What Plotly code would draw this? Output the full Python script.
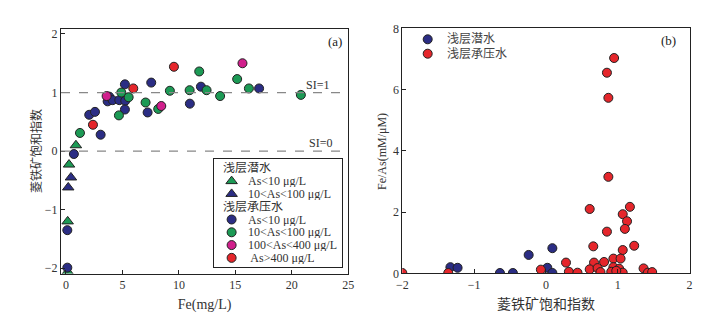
import plotly.graph_objects as go

# ---- panel (a): Fe vs siderite saturation index ----
# 浅层潜水 (triangles)
tri_green_fe = [0.88, 0.27, 0.15, 0.15]
tri_green_si = [0.10, -0.23, -1.20, -2.06]
tri_blue_fe = [0.44, 0.20]
tri_blue_si = [-0.45, -0.62]

# 浅层承压水 (circles)
blue_fe = [0.70, 2.06, 2.57, 3.07, 3.83, 3.69, 4.13, 5.22, 4.72, 5.25, 5.22,
           7.55, 7.23, 10.97, 11.95, 17.1, 0.12, 0.12]
blue_si = [-0.05, 0.62, 0.67, 0.28, 0.93, 0.85, 0.87, 1.14, 0.87, 0.86, 0.71,
           1.17, 0.66, 0.81, 1.10, 1.07, -1.35, -1.99]
green_fe = [1.24, 4.90, 5.55, 4.69, 7.05, 8.17, 9.20, 10.95, 11.8, 12.45,
            13.65, 15.16, 16.2, 20.8]
green_si = [0.31, 1.00, 0.92, 0.61, 0.83, 0.72, 1.03, 1.04, 1.36, 1.04,
            0.94, 1.23, 1.07, 0.96]
mag_fe = [3.60, 8.44, 15.63]
mag_si = [0.94, 0.77, 1.50]
red_fe = [2.39, 5.96, 9.56]
red_si = [0.45, 1.07, 1.44]

# ---- panel (b): SI vs Fe/As ----
b_blue_si = [-1.33, -1.23, -0.24, 0.09, 0.02, -0.64, -0.46, 0.09]
b_blue_ratio = [0.20, 0.18, 0.60, 0.82, 0.18, 0.01, 0.01, 0.01]
b_red_si = [0.95, 0.85, 0.87, 0.87, 0.61, 1.17, 1.07, 1.13, 1.10, 0.85, 1.23,
            0.66, 1.07, 0.94, 1.04, 0.28, 0.67, 0.81, 0.61, 0.72, 0.94, 1.02,
            1.36, 0.32, 0.44, -0.07, 0.76, 0.91, 1.07, 1.42, 1.48, -2.0, -1.36, 0.98]
b_red_ratio = [7.03, 6.55, 5.73, 3.15, 2.10, 2.17, 1.93, 1.70, 1.45, 1.36, 0.90,
               0.88, 0.76, 0.48, 0.48, 0.35, 0.35, 0.37, 0.13, 0.17, 0.20, 0.15,
               0.16, 0.05, 0.02, 0.12, 0.04, 0.05, 0.02, 0.02, 0.04, 0.01, 0.01, 0.08]

# legend contents
legend_a_labels = ["浅层潜水", "As<10 μg/L", "10<As<100 μg/L", "浅层承压水",
                   "As<10 μg/L", "10<As<100 μg/L", "100<As<400 μg/L", " As>400 μg/L"]
legend_b_labels = ["浅层潜水", "浅层承压水"]

BLUE = "#2b2d84"
GREEN = "#1c9a55"
MAGENTA = "#d11f8c"
RED = "#e5262b"
SERIF = "Liberation Serif, Noto Sans CJK SC"
TXT = "#333333"

legend_a_colors = [None, GREEN, BLUE, None, BLUE, GREEN, MAGENTA, RED]
legend_a_symbols = [None, "triangle-up", "triangle-up", None,
                    "circle", "circle", "circle", "circle"]

# page body has an 8px margin, so the figure is drawn 8px in from the corner
W, H = 707, 305


def px(x):  # screen px -> paper x
    return (x - 8) / W


def py(y):  # screen px -> paper y
    return 1 - (y - 8) / H


fig = go.Figure()


def mk(color, symbol="circle", size=9):
    return dict(color=color, symbol=symbol, size=size,
                line=dict(color="#222222", width=1))


def pts(x, y, color, symbol="circle", size=9, xa="x", ya="y"):
    fig.add_trace(go.Scatter(x=x, y=y, mode="markers", marker=mk(color, symbol, size),
                             showlegend=False, xaxis=xa, yaxis=ya, hoverinfo="x+y"))


pts(tri_green_fe, tri_green_si, GREEN, "triangle-up", 10)
pts(tri_blue_fe, tri_blue_si, BLUE, "triangle-up", 10)
pts(blue_fe, blue_si, BLUE)
pts(green_fe, green_si, GREEN)
pts(mag_fe, mag_si, MAGENTA)
pts(red_fe, red_si, RED)

pts(b_blue_si, b_blue_ratio, BLUE, xa="x2", ya="y2")
pts(b_red_si, b_red_ratio, RED, xa="x2", ya="y2")

annotations = []

# legend (a): keys drawn on an overlay axis measured in rows
for i, (lab, col, sym) in enumerate(zip(legend_a_labels, legend_a_colors, legend_a_symbols)):
    if col is None:
        annotations.append(dict(text=lab, xref="x3", yref="y3", x=0.057, y=i, height=12,
                                xanchor="left", yanchor="middle", showarrow=False,
                                font=dict(family=SERIF, size=12, color=TXT)))
    else:
        fig.add_trace(go.Scatter(x=[0.14], y=[i], mode="markers",
                                 marker=mk(col, sym, 9 if sym == "circle" else 10),
                                 showlegend=False, xaxis="x3", yaxis="y3", hoverinfo="skip"))
        annotations.append(dict(text=lab, xref="x3", yref="y3", x=0.25, y=i, height=12,
                                xanchor="left", yanchor="middle", showarrow=False,
                                font=dict(family=SERIF, size=12, color=TXT)))

# legend (b)
for i, (lab, col) in enumerate(zip(legend_b_labels, [BLUE, RED])):
    fig.add_trace(go.Scatter(x=[0.077], y=[i], mode="markers", marker=mk(col),
                             showlegend=False, xaxis="x4", yaxis="y4", hoverinfo="skip"))
    annotations.append(dict(text=lab, xref="x4", yref="y4", x=0.25, y=i,
                            xanchor="left", yanchor="middle", showarrow=False,
                            font=dict(family=SERIF, size=12, color="#444444")))

annotations += [
    dict(text="SI=1", xref="x", yref="y", x=22.3, y=1.0, showarrow=False,
         xanchor="center", yanchor="bottom", yshift=-1,
         font=dict(family=SERIF, size=12, color=TXT)),
    dict(text="SI=0", xref="x", yref="y", x=22.5, y=0.0, showarrow=False,
         xanchor="center", yanchor="bottom", yshift=-1,
         font=dict(family=SERIF, size=12, color=TXT)),
    dict(text="(a)", xref="paper", yref="paper", x=px(335), y=py(42), showarrow=False,
         xanchor="center", yanchor="middle",
         font=dict(family=SERIF, size=13, color="#222222")),
    dict(text="(b)", xref="paper", yref="paper", x=px(668), y=py(41), showarrow=False,
         xanchor="center", yanchor="middle",
         font=dict(family=SERIF, size=13, color="#222222")),
    # y-axis titles
    dict(text="菱铁矿饱和指数", xref="paper", yref="paper", x=px(37), y=py(151),
         xanchor="center", yanchor="middle", textangle=-90, showarrow=False,
         font=dict(family=SERIF, size=12, color=TXT)),
    dict(text="Fe/As(mM/μM)", xref="paper", yref="paper", x=px(382), y=py(151),
         xanchor="center", yanchor="middle", textangle=-90, showarrow=False,
         font=dict(family=SERIF, size=12, color=TXT)),
]

axis_common = dict(showline=True, mirror=True, linecolor="#222222", linewidth=1,
                   ticks="inside", ticklen=4, tickcolor="#222222",
                   showgrid=False, zeroline=False, automargin=False,
                   tickfont=dict(family=SERIF, size=12, color=TXT))
hidden = dict(showgrid=False, zeroline=False, showticklabels=False, ticks="",
              fixedrange=True, automargin=False)

fig.update_layout(
    width=W, height=H,
    margin=dict(l=0, r=0, t=0, b=0),
    paper_bgcolor="white", plot_bgcolor="white",
    font=dict(family=SERIF, size=12, color=TXT),
    showlegend=False,
    xaxis=dict(domain=[px(61), px(348.3)], range=[-0.44, 25.0], tickvals=[0, 5, 10, 15, 20, 25],
               title=dict(text="Fe(mg/L)", standoff=8), anchor="y", **axis_common),
    yaxis=dict(domain=[py(273.5), py(29)], range=[-2.09, 2.085], tickvals=[-2, -1, 0, 1, 2],
               anchor="x", **axis_common),
    xaxis2=dict(domain=[px(402.3), px(689.5)], range=[-2, 2], tickvals=[-2, -1, 0, 1, 2],
                title=dict(text="菱铁矿饱和指数", standoff=8), anchor="y2", **axis_common),
    yaxis2=dict(domain=[py(273.3), py(28.3)], range=[0, 8], tickvals=[0, 2, 4, 6, 8],
                anchor="x2", **axis_common),
    xaxis3=dict(domain=[px(213.7), px(341.7)], range=[0, 1], anchor="y3",
                showline=True, mirror=True, linecolor="#222222", linewidth=1, **hidden),
    yaxis3=dict(domain=[py(266.7), py(159)], range=[7.69, -0.73], anchor="x3",
                showline=True, mirror=True, linecolor="#222222", linewidth=1, **hidden),
    xaxis4=dict(domain=[px(420), px(520)], range=[0, 1], anchor="y4", showline=False, **hidden),
    yaxis4=dict(domain=[py(60.9), py(32.1)], range=[1.5, -0.5], anchor="x4",
                showline=False, **hidden),
    shapes=[
        dict(type="line", xref="x domain", yref="y", x0=0, x1=1, y0=1, y1=1,
             line=dict(color="#888888", width=1.2, dash="dash")),
        dict(type="line", xref="x domain", yref="y", x0=0, x1=1, y0=0, y1=0,
             line=dict(color="#888888", width=1.2, dash="dash")),
    ],
    annotations=annotations,
)

fig.write_html("out.html")
